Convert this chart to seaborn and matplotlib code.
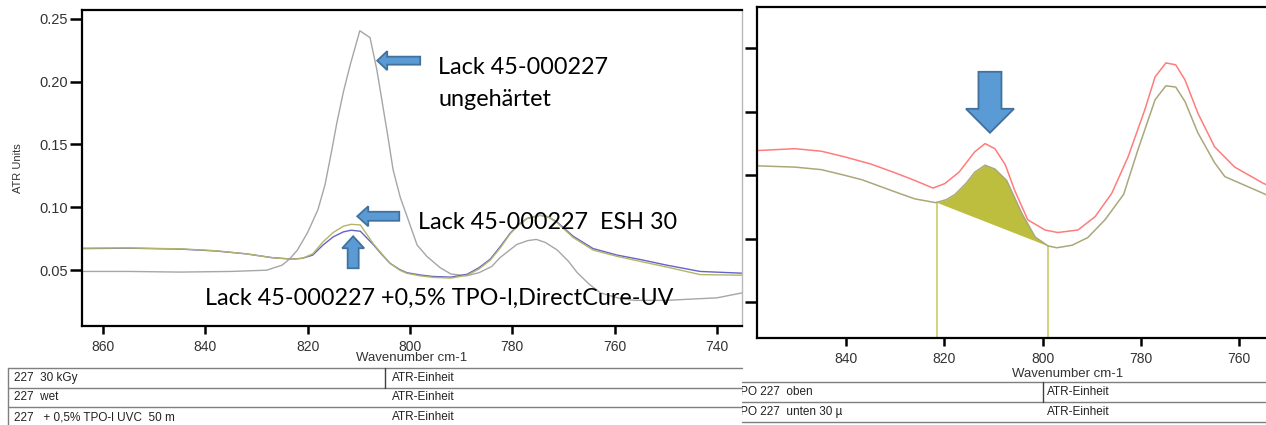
import numpy as np
import pandas as pd
import seaborn as sns
import matplotlib
matplotlib.use("Agg")
import matplotlib.pyplot as plt
from matplotlib.patches import Polygon
from matplotlib.lines import Line2D
from matplotlib.transforms import IdentityTransform, Bbox

# ---------------- data: FTIR-ATR spectra, lacquer 45-000227 ----------------
# left panel: uncured, EB cured (ESH 30 kGy), UV cured (+0.5 % TPO-L)
wn_uncured = [864, 855, 845, 835, 828, 825, 823.5, 822, 820, 818, 816.6, 815.3, 814.3,
              813, 811.7, 809.8, 807.8, 806.5, 805.8, 804.3, 803.3, 801.9, 800.5, 798.6,
              796.7, 794.1, 792, 789, 786.5, 784, 782.4, 779.1, 777, 775.3, 773.5, 771.2,
              769, 767.3, 765, 762.8, 759, 756, 750, 745, 740, 735]
atr_uncured = [0.049, 0.049, 0.0485, 0.049, 0.050, 0.054, 0.059, 0.066, 0.080, 0.098, 0.118,
               0.145, 0.167, 0.192, 0.213, 0.2405, 0.235, 0.210, 0.193, 0.156, 0.130, 0.108,
               0.092, 0.070, 0.061, 0.052, 0.047, 0.0455, 0.048, 0.053, 0.060, 0.0705, 0.0735,
               0.0745, 0.072, 0.066, 0.057, 0.048, 0.039, 0.032, 0.0275, 0.026, 0.026, 0.027,
               0.028, 0.032]

wn_cured = [864, 855, 845, 838, 832, 827, 823, 821, 819, 817, 815, 813, 811.5, 809.7, 807.2,
            805.5, 803.9, 802, 800.6, 798, 795.5, 792, 788.8, 786.5, 784.3, 782.3, 780.4,
            778.7, 777.1, 774.6, 773, 771.3, 768.1, 764.2, 759.5, 755, 749.8, 743.3, 735]
atr_esh30 = [0.0675, 0.0677, 0.067, 0.0655, 0.063, 0.060, 0.0587, 0.0595, 0.063, 0.0725,
             0.080, 0.085, 0.0865, 0.086, 0.0712, 0.063, 0.0555, 0.050, 0.0475, 0.0455,
             0.0443, 0.0437, 0.046, 0.051, 0.058, 0.068, 0.079, 0.086, 0.091, 0.0937,
             0.0925, 0.088, 0.076, 0.066, 0.061, 0.057, 0.0525, 0.0465, 0.046]
atr_uvc = [0.0672, 0.0675, 0.0668, 0.0653, 0.063, 0.060, 0.0588, 0.0595, 0.062, 0.070,
           0.0765, 0.0805, 0.0818, 0.081, 0.0705, 0.0625, 0.0555, 0.0505, 0.048, 0.0462,
           0.045, 0.0445, 0.0468, 0.052, 0.0588, 0.069, 0.0795, 0.0865, 0.0912, 0.0937,
           0.0925, 0.0885, 0.077, 0.0672, 0.062, 0.0585, 0.054, 0.049, 0.0476]

# right panel: UV cured film, top side vs. bottom side (30 µm)
wn_top = [858.1, 850.4, 845, 840.2, 835, 830, 826, 822.3, 819.9, 817, 813.8, 811.7, 809.7,
          807.6, 805.6, 803, 799.5, 796.9, 792.8, 789.3, 785.9, 782.6, 779.2, 777.1, 774.9,
          772.9, 771, 768.4, 765, 760.9, 755.2, 752.5]
atr_top = [0.0639, 0.0642, 0.0638, 0.0629, 0.0618, 0.0604, 0.0592, 0.058, 0.0587, 0.0605,
           0.0637, 0.065, 0.0642, 0.0617, 0.0575, 0.053, 0.0514, 0.051, 0.0514, 0.0535,
           0.0572, 0.0629, 0.0703, 0.0755, 0.0777, 0.0774, 0.075, 0.0698, 0.0645, 0.0613,
           0.0588, 0.0578]
wn_bottom = [858.1, 850.4, 845, 840.2, 836.7, 830, 826, 821.7, 819.5, 817.8, 815.5, 813.8,
             811.7, 809.7, 807.3, 804.2, 801.5, 798.9, 797.1, 794, 790.8, 787.3, 783.5,
             780.6, 777.1, 774.9, 772.9, 771, 768.4, 765, 762.9, 755.2, 752.5]
atr_bottom = [0.0615, 0.0613, 0.0609, 0.060, 0.0593, 0.0574, 0.0563, 0.0557, 0.0562, 0.057,
              0.0588, 0.0605, 0.0616, 0.061, 0.0592, 0.054, 0.0503, 0.0489, 0.0486, 0.049,
              0.0502, 0.053, 0.057, 0.064, 0.0719, 0.0741, 0.0739, 0.0716, 0.0667, 0.062,
              0.0598, 0.0572, 0.0562]
# integration limits of the 810 cm-1 acrylate band
band_start, band_end = 821.5, 798.9

left_ticks_x = [860, 840, 820, 800, 780, 760, 740]
left_ticks_y = [0.05, 0.10, 0.15, 0.20, 0.25]
right_ticks_x = [840, 820, 800, 780, 760]
right_ticks_y = [0.04, 0.05, 0.06, 0.07, 0.08]

left_rows = [("227  30 kGy", "ATR-Einheit"), ("227  wet", "ATR-Einheit"),
             ("227   + 0,5% TPO-l UVC  50 m", "ATR-Einheit")]
right_rows = [("TPO 227  oben", "ATR-Einheit"), ("TPO 227  unten 30 µ", "ATR-Einheit")]

# ---------------- figure ----------------
sns.set_theme(style="ticks")
plt.rcParams["font.family"] = ["Liberation Sans", "DejaVu Sans"]

W, H = 1266, 425
fig = plt.figure(figsize=(W / 100, H / 100), dpi=100)


def px_rect(l, t, r, b):
    return [l / W, 1 - b / H, (r - l) / W, (b - t) / H]


def fx(x):
    return x / W


def fy(y):
    return 1 - y / H


axL = fig.add_axes(px_rect(82, 10, 742, 326))
axR = fig.add_axes(px_rect(757, 7, 1275, 338))

# drawing order: uncured, UV cured, EB cured on top
left_df = pd.concat([
    pd.DataFrame({"wn": wn_uncured, "atr": atr_uncured, "probe": "wet"}),
    pd.DataFrame({"wn": wn_cured, "atr": atr_uvc, "probe": "UVC"}),
    pd.DataFrame({"wn": wn_cured, "atr": atr_esh30, "probe": "30 kGy"}),
])
sns.lineplot(data=left_df, x="wn", y="atr", hue="probe", estimator=None, sort=False,
             palette={"wet": "#a6a6a6", "30 kGy": "#b4b46c", "UVC": "#6464c6"},
             linewidth=1.0, legend=False, ax=axL)

right_df = pd.concat([
    pd.DataFrame({"wn": wn_top, "atr": atr_top, "probe": "oben"}),
    pd.DataFrame({"wn": wn_bottom, "atr": atr_bottom, "probe": "unten"}),
])
sns.lineplot(data=right_df, x="wn", y="atr", hue="probe", estimator=None, sort=False,
             palette={"oben": "#ff7c7c", "unten": "#aaa87a"},
             linewidth=1.1, legend=False, ax=axR)

# band area above the straight baseline between the integration limits
wb = np.array(wn_bottom[::-1])
ab = np.array(atr_bottom[::-1])
y0, y1 = np.interp(band_start, wb, ab), np.interp(band_end, wb, ab)
band_x = np.linspace(band_end, band_start, 80)
band_curve = np.interp(band_x, wb, ab)
band_base = y1 + (band_x - band_end) * (y0 - y1) / (band_start - band_end)
axR.fill_between(band_x, band_base, band_curve, color="#bdbd3e", linewidth=0, zorder=1)

# axes styling
axL.set_xlim(864.1, 735.1)
axL.set_ylim(0.0056, 0.257)
axR.set_xlim(858.1, 752.7)
axR.set_ylim(0.0344, 0.0865)

for wv, yv in ((band_start, y0), (band_end, y1)):
    axR.plot([wv, wv], [axR.get_ylim()[0], yv], color="#c8c85a", lw=1.1, zorder=1)

for ax in (axL, axR):
    ax.set_xlabel("")
    ax.set_ylabel("")
    for s in ("left", "bottom", "top"):
        ax.spines[s].set_color("black")
        ax.spines[s].set_linewidth(1.6)
    ax.tick_params(axis="y", direction="out", length=9, width=1.8, colors="black",
                   labelcolor="#333333", labelsize=10.5, pad=1)
    ax.tick_params(axis="x", direction="out", length=6, width=1.8, colors="black",
                   labelcolor="#333333", labelsize=10, pad=4)
    ax.set_facecolor("white")

axL.spines["right"].set_color("#b8b8b8")
axL.spines["right"].set_linewidth(1.0)
axR.spines["right"].set_visible(False)

axL.set_xticks(left_ticks_x)
axL.set_xticklabels([str(v) for v in left_ticks_x])
axL.set_yticks(left_ticks_y)
axL.set_yticklabels([f"{v:.2f}" for v in left_ticks_y])
axR.set_xticks(right_ticks_x)
axR.set_xticklabels([str(v) for v in right_ticks_x])
axR.set_yticks(right_ticks_y)
axR.set_yticklabels([])

fig.text(fx(18), fy(168), "ATR Units", rotation=90, ha="center", va="center",
         fontsize=8, color="#333333")
fig.text(fx(412), fy(358), "Wavenumber cm-1", ha="center", va="center",
         fontsize=9.5, color="#333333")
fig.text(fx(1068), fy(374), "Wavenumber cm-1", ha="center", va="center",
         fontsize=9.5, color="#333333")


# ---------------- block arrows pointing at the 810 cm-1 band ----------------
def block_arrow(ax, wn, val, direction, length, shaft, head_w, head_len):
    tx, ty = ax.transData.transform((wn, val))
    d = {"left": (1, 0), "up": (0, -1), "down": (0, 1)}[direction]
    n = (-d[1], d[0])
    dx, dy = np.array(d, float), np.array(n, float)
    tip = np.array([tx, ty])
    pts = [tip,
           tip + dx * head_len + dy * head_w / 2,
           tip + dx * head_len + dy * shaft / 2,
           tip + dx * length + dy * shaft / 2,
           tip + dx * length - dy * shaft / 2,
           tip + dx * head_len - dy * shaft / 2,
           tip + dx * head_len - dy * head_w / 2]
    fig.add_artist(Polygon(pts, closed=True, facecolor="#5b9bd5", edgecolor="#41719c",
                           linewidth=1.3, transform=IdentityTransform(), zorder=5))


block_arrow(axL, 806.4, 0.2167, "left", 43, 8, 19, 10)
block_arrow(axL, 810.3, 0.0929, "left", 42, 9, 20, 11)
block_arrow(axL, 811.1, 0.0770, "up", 32, 11, 22, 12)
block_arrow(axR, 810.7, 0.0667, "down", 61, 23, 48, 24)

# ---------------- annotations ----------------
ann = dict(fontsize=16.8, color="black", family=["Lato", "DejaVu Sans"], va="center", ha="left")
fig.text(fx(438), fy(68), "Lack 45-000227", **ann)
fig.text(fx(438), fy(100), "ungehärtet", **ann)
fig.text(fx(418), fy(223), "Lack 45-000227  ESH 30", **ann)
fig.text(fx(205), fy(298), "Lack 45-000227 +0,5% TPO-l,DirectCure-UV", **ann)


# ---------------- sample tables under the spectra ----------------
def hline(y, x0, x1, color="#7f7f7f", lw=1.0):
    fig.add_artist(Line2D([fx(x0), fx(x1)], [fy(y), fy(y)], color=color, lw=lw))


def vline(x, y0_, y1_, color="#7f7f7f", lw=1.0):
    fig.add_artist(Line2D([fx(x), fx(x)], [fy(y0_), fy(y1_)], color=color, lw=lw))


tab = dict(fontsize=8.5, color="#222222", va="center", ha="left")

for y in (368, 388, 407):
    hline(y, 8, 742)
vline(8, 368, 425)
vline(385, 368, 388, color="#404040")
for i, (name, unit) in enumerate(left_rows):
    yc = 378 + i * 19.5
    fig.text(fx(14), fy(yc), name, **tab)
    fig.text(fx(392), fy(yc), unit, **tab)

for y in (382, 402, 422):
    hline(y, 742, 1266)
vline(1043, 382, 402, color="#404040")
clip = Bbox.from_extents(742, 0, W, H)
for i, (name, unit) in enumerate(right_rows):
    yc = 392 + i * 20
    t = fig.text(fx(733), fy(yc), name, **tab)
    t.set_clip_box(clip)
    t.set_clip_on(True)
    fig.text(fx(1047), fy(yc), unit, **tab)

fig.savefig("out.png", dpi=100, facecolor="white")
